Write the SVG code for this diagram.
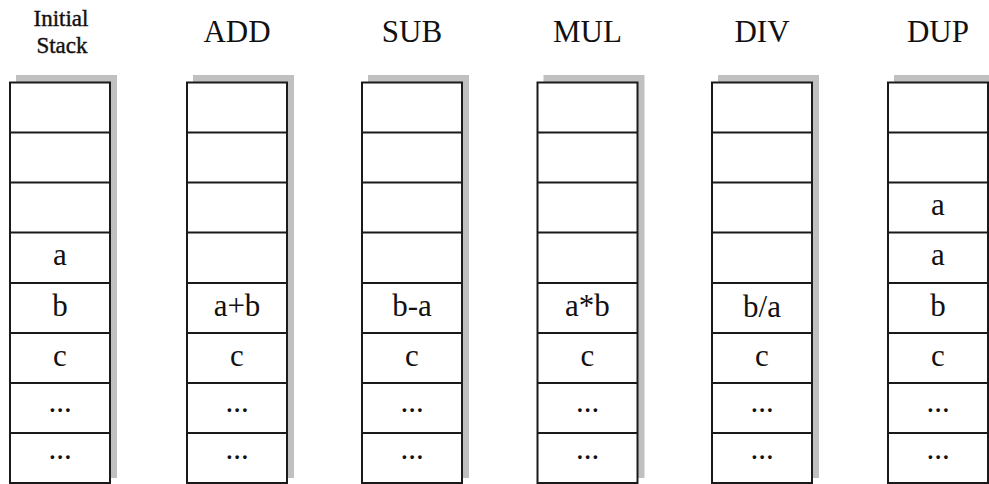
<svg xmlns="http://www.w3.org/2000/svg" width="989" height="484" viewBox="0 0 989 484">
<style>
.bg{fill:#ffffff}
.sh{fill:#c0c0c0}
.box{fill:#ffffff;stroke:#1a1a1a;stroke-width:2}
.ln{stroke:#1a1a1a;stroke-width:2}
.hd{font-family:"Liberation Serif","Times New Roman",serif;font-size:31px;fill:#111;text-anchor:middle}
.hs{font-family:"Liberation Serif","Times New Roman",serif;font-size:23px;fill:#111;text-anchor:middle;stroke:#111;stroke-width:0.4}
.tx{font-family:"Liberation Serif","Times New Roman",serif;font-size:31px;fill:#111;text-anchor:middle}
</style>
<defs>
<g id="stack">
<rect class="sh" x="6" y="75" width="101" height="403"/>
<rect class="box" x="0" y="82.5" width="100" height="400.5"/>
<line class="ln" x1="0" y1="132.5" x2="100" y2="132.5"/>
<line class="ln" x1="0" y1="182.5" x2="100" y2="182.5"/>
<line class="ln" x1="0" y1="232.5" x2="100" y2="232.5"/>
<line class="ln" x1="0" y1="283" x2="100" y2="283"/>
<line class="ln" x1="0" y1="333" x2="100" y2="333"/>
<line class="ln" x1="0" y1="383" x2="100" y2="383"/>
<line class="ln" x1="0" y1="433" x2="100" y2="433"/>
</g>
</defs>
<rect class="bg" x="0" y="0" width="989" height="484"/>

<g id="initial-stack">
<use href="#stack" x="10"/>
<text class="hs" x="61" y="26">Initial</text>
<text class="hs" x="62" y="53">Stack</text>
<text class="tx" x="60" y="265">a</text>
<text class="tx" x="60" y="316">b</text>
<text class="tx" x="60" y="366">c</text>
<text class="tx" x="60" y="412">...</text>
<text class="tx" x="60" y="459">...</text>
</g>

<g id="add">
<use href="#stack" x="187"/>
<text class="hd" x="237" y="42">ADD</text>
<text class="tx" x="237" y="316">a+b</text>
<text class="tx" x="237" y="366">c</text>
<text class="tx" x="237" y="412">...</text>
<text class="tx" x="237" y="459">...</text>
</g>

<g id="sub">
<use href="#stack" x="362"/>
<text class="hd" x="412" y="42">SUB</text>
<text class="tx" x="412" y="316">b-a</text>
<text class="tx" x="412" y="366">c</text>
<text class="tx" x="412" y="412">...</text>
<text class="tx" x="412" y="459">...</text>
</g>

<g id="mul">
<use href="#stack" x="537.5"/>
<text class="hd" x="587.5" y="42">MUL</text>
<text class="tx" x="587.5" y="316">a*b</text>
<text class="tx" x="587.5" y="366">c</text>
<text class="tx" x="587.5" y="412">...</text>
<text class="tx" x="587.5" y="459">...</text>
</g>

<g id="div">
<use href="#stack" x="712"/>
<text class="hd" x="762" y="42">DIV</text>
<text class="tx" x="762" y="317">b/a</text>
<text class="tx" x="762" y="366">c</text>
<text class="tx" x="762" y="412">...</text>
<text class="tx" x="762" y="459">...</text>
</g>

<g id="dup">
<use href="#stack" x="888"/>
<text class="hd" x="938" y="42">DUP</text>
<text class="tx" x="938" y="215">a</text>
<text class="tx" x="938" y="265">a</text>
<text class="tx" x="938" y="316">b</text>
<text class="tx" x="938" y="366">c</text>
<text class="tx" x="938" y="412">...</text>
<text class="tx" x="938" y="459">...</text>
</g>
</svg>
